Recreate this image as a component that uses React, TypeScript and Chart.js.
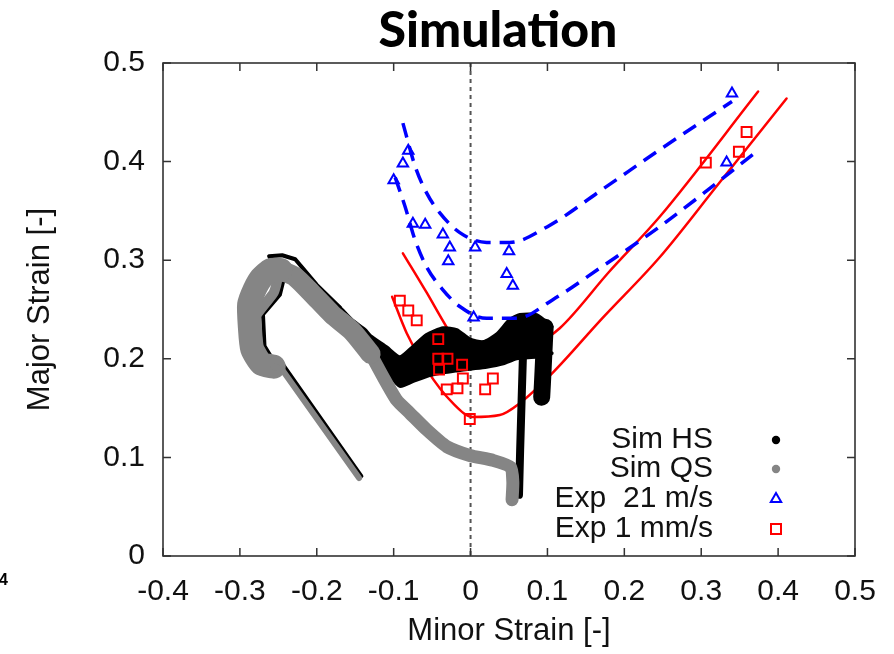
import React, { useEffect, useRef } from 'react';
import { Chart, registerables } from 'chart.js';

Chart.register(...registerables);

// ---- axes ----
const X_TICKS = [-0.4, -0.3, -0.2, -0.1, 0, 0.1, 0.2, 0.3, 0.4, 0.5];
const X_TICK_LABELS = ['-0.4', '-0.3', '-0.2', '-0.1', '0', '0.1', '0.2', '0.3', '0.4', '0.5'];
const Y_TICKS = [0, 0.1, 0.2, 0.3, 0.4, 0.5];
const Y_TICK_LABELS = ['0', '0.1', '0.2', '0.3', '0.4', '0.5'];

const LEGEND_LABELS = ['Sim HS', 'Sim QS', 'Exp  21 m/s', 'Exp 1 mm/s'];

// ---- Exp 21 m/s (triangles) ----
const EXP21_X = [-0.081, -0.088, -0.1, -0.075, -0.059, -0.036, -0.027, -0.029, 0.006, 0.05, 0.047, 0.055, 0.004, 0.34, 0.333];
const EXP21_Y = [0.411, 0.398, 0.381, 0.337, 0.336, 0.326, 0.313, 0.299, 0.313, 0.309, 0.286, 0.274, 0.242, 0.469, 0.399];

// ---- Exp 1 mm/s (squares) ----
const EXP1_X = [-0.092, -0.081, -0.07, -0.042, -0.042, -0.03, -0.041, -0.011, -0.01, -0.017, -0.031, 0.029, 0.019, -0.001, 0.306, 0.349, 0.359];
const EXP1_Y = [0.259, 0.249, 0.239, 0.22, 0.2, 0.2, 0.189, 0.194, 0.18, 0.17, 0.169, 0.18, 0.169, 0.139, 0.399, 0.41, 0.43];

// ---- blue dashed limit curves ----
const BLUE_UP_X = [-0.088, -0.072, -0.057, -0.04, -0.014, 0.021, 0.051, 0.1, 0.17, 0.246, 0.34];
const BLUE_UP_Y = [0.439, 0.395, 0.368, 0.348, 0.328, 0.318, 0.318, 0.334, 0.371, 0.412, 0.461];
const BLUE_LO_X = [-0.098, -0.085, -0.072, -0.057, -0.036, -0.014, 0.021, 0.06, 0.107, 0.17, 0.246, 0.372];
const BLUE_LO_Y = [0.384, 0.354, 0.32, 0.293, 0.27, 0.253, 0.241, 0.241, 0.26, 0.293, 0.334, 0.41];

// ---- red solid limit curves ----
const RED_UP_X = [-0.088, -0.057, -0.031, -0.014, 0.021, 0.051, 0.08, 0.116, 0.18, 0.246, 0.374];
const RED_UP_Y = [0.307, 0.267, 0.232, 0.212, 0.199, 0.202, 0.212, 0.231, 0.288, 0.344, 0.471];
const RED_LO_X = [-0.102, -0.083, -0.057, -0.023, 0.003, 0.038, 0.064, 0.107, 0.17, 0.246, 0.32, 0.411];
const RED_LO_Y = [0.263, 0.226, 0.189, 0.155, 0.141, 0.143, 0.155, 0.186, 0.24, 0.303, 0.375, 0.464];

// ---- Sim QS (grey band) ----
const QS_THIN_X = [-0.145, -0.245, -0.256];
const QS_THIN_Y = [0.079, 0.189, 0.192];
const QS_LEFT_X = [-0.256, -0.272, -0.284, -0.287, -0.288, -0.281, -0.272, -0.26, -0.247];
const QS_LEFT_Y = [0.192, 0.195, 0.21, 0.232, 0.255, 0.27, 0.282, 0.29, 0.29];
const QS_NOTCH_X = [-0.279, -0.266, -0.256, -0.251, -0.255];
const QS_NOTCH_Y = [0.244, 0.257, 0.267, 0.282, 0.29];
const QS_UP_X = [-0.247, -0.228, -0.206, -0.18, -0.154, -0.13];
const QS_UP_Y = [0.29, 0.283, 0.266, 0.245, 0.228, 0.205];
const QS_LO_X = [-0.13, -0.114, -0.096, -0.079, -0.057, -0.031, -0.001, 0.029, 0.052, 0.055, 0.054];
const QS_LO_Y = [0.205, 0.182, 0.158, 0.145, 0.128, 0.111, 0.102, 0.097, 0.09, 0.075, 0.057];

// ---- Sim HS (black band) ----
const HS_THIN_X = [-0.142, -0.243, -0.257, -0.268, -0.27, -0.258, -0.248, -0.243, -0.262, -0.245, -0.228, -0.2, -0.17];
const HS_THIN_Y = [0.081, 0.193, 0.199, 0.213, 0.245, 0.256, 0.265, 0.281, 0.304, 0.305, 0.301, 0.275, 0.252];
const HS_TOP_X = [-0.17, -0.1546, -0.1373, -0.1308, -0.1091, -0.0918, -0.0745, -0.0571, -0.0355, -0.0181, -0.0008, 0.0165, 0.0339, 0.0512, 0.0642, 0.0859, 0.1055];
const HS_TOP_Y = [0.252, 0.2393, 0.2292, 0.2234, 0.2115, 0.2015, 0.2123, 0.2241, 0.2309, 0.2292, 0.2195, 0.217, 0.2245, 0.2395, 0.2444, 0.2444, 0.2326];
const HS_BOT_X = [-0.17, -0.15, -0.1308, -0.1091, -0.0918, -0.0745, -0.0571, -0.0355, -0.0181, -0.0008, 0.0209, 0.0425, 0.0599, 0.0859, 0.1055];
const HS_BOT_Y = [0.248, 0.23, 0.205, 0.187, 0.1725, 0.1775, 0.1826, 0.1862, 0.1882, 0.19, 0.192, 0.1954, 0.2005, 0.2022, 0.2056];
const HS_BLOB_X = [0.097, 0.095, 0.0935, 0.0925];
const HS_BLOB_Y = [0.232, 0.2, 0.175, 0.161];
const HS_VERT_X = [0.0686, 0.0664, 0.0645, 0.063];
const HS_VERT_Y = [0.215, 0.158, 0.1075, 0.062];

const pts = (xs: number[], ys: number[]) => xs.map((x, i) => ({ x, y: ys[i] }));

const FONT = '"Liberation Sans", Arial, sans-serif';
const BLUE = '#0000ff';
const RED = '#ff0000';
const GREY = '#858585';
const TEXT = '#111111';

const decorPlugin = {
  id: 'decor',
  beforeDatasetsDraw(chart: any) {
    const { ctx, chartArea, scales } = chart;
    const x0 = scales.x.getPixelForValue(0);
    ctx.save();
    ctx.strokeStyle = '#555';
    ctx.lineWidth = 2;
    ctx.setLineDash([4, 4]);
    ctx.beginPath();
    ctx.moveTo(x0, chartArea.top);
    ctx.lineTo(x0, chartArea.bottom);
    ctx.stroke();
    ctx.restore();
  },
  afterDatasetsDraw(chart: any) {
    const { ctx, chartArea, scales } = chart;
    const { left, right, top, bottom } = chartArea;
    ctx.save();
    ctx.strokeStyle = '#333';
    ctx.lineWidth = 1.5;
    ctx.beginPath();
    X_TICKS.forEach((v) => {
      const px = scales.x.getPixelForValue(v);
      ctx.moveTo(px, bottom);
      ctx.lineTo(px, bottom - 8);
      ctx.moveTo(px, top);
      ctx.lineTo(px, top + 8);
    });
    Y_TICKS.forEach((v) => {
      const py = scales.y.getPixelForValue(v);
      ctx.moveTo(left, py);
      ctx.lineTo(left + 8, py);
      ctx.moveTo(right, py);
      ctx.lineTo(right - 8, py);
    });
    ctx.stroke();
    ctx.lineWidth = 1.6;
    ctx.strokeRect(left, top, right - left, bottom - top);

    // legend (text right-aligned, symbol to the right)
    const textX = 713;
    const symX = 776;
    const rowY = [440, 469, 499, 529];
    ctx.font = `30px ${FONT}`;
    ctx.fillStyle = TEXT;
    ctx.textAlign = 'right';
    ctx.textBaseline = 'middle';
    LEGEND_LABELS.forEach((t, i) => ctx.fillText(t, textX, rowY[i]));
    const dot = (cx: number, cy: number, col: string) => {
      ctx.fillStyle = col;
      ctx.beginPath();
      ctx.arc(cx, cy, 4.2, 0, Math.PI * 2);
      ctx.fill();
    };
    dot(symX, rowY[0], '#000');
    dot(symX, rowY[1], GREY);
    ctx.strokeStyle = BLUE;
    ctx.lineWidth = 2;
    const r = 6;
    ctx.beginPath();
    ctx.moveTo(symX, rowY[2] - r);
    ctx.lineTo(symX + r * Math.sin((2 * Math.PI) / 3), rowY[2] + r / 2);
    ctx.lineTo(symX - r * Math.sin((2 * Math.PI) / 3), rowY[2] + r / 2);
    ctx.closePath();
    ctx.stroke();
    ctx.strokeStyle = RED;
    ctx.strokeRect(symX - 5, rowY[3] - 5, 10, 10);

    // title
    ctx.fillStyle = '#000';
    ctx.textAlign = 'center';
    ctx.textBaseline = 'middle';
    ctx.font = '900 50px Lato, "Open Sans", sans-serif';
    ctx.fillText('Simulation', 498, 31);

    // clipped stray label at far left
    ctx.font = `bold 16px ${FONT}`;
    ctx.textAlign = 'right';
    ctx.fillText('4', 8, 581);
    ctx.restore();
  },
};

export default function App() {
  const ref = useRef<HTMLCanvasElement | null>(null);

  useEffect(() => {
    if (!ref.current) return;
    const lineDs = (data: any[], color: string, width: number, order: number, extra: any = {}) => ({
      data,
      showLine: true,
      borderColor: color,
      backgroundColor: color,
      borderWidth: width,
      pointRadius: 0,
      pointHoverRadius: 0,
      borderCapStyle: 'round',
      borderJoinStyle: 'round',
      tension: 0.2,
      fill: false,
      order,
      ...extra,
    });

    const chart = new Chart(ref.current, {
      type: 'scatter',
      data: {
        datasets: [
          {
            data: pts(EXP1_X, EXP1_Y),
            pointStyle: 'rect',
            pointRadius: 7,
            pointBorderWidth: 2,
            borderColor: RED,
            backgroundColor: 'rgba(0,0,0,0)',
            order: 0,
          } as any,
          {
            data: pts(EXP21_X, EXP21_Y),
            pointStyle: 'triangle',
            pointRadius: 6,
            pointBorderWidth: 2,
            borderColor: BLUE,
            backgroundColor: 'rgba(0,0,0,0)',
            order: 1,
          } as any,
          lineDs(pts(BLUE_UP_X, BLUE_UP_Y), BLUE, 3.5, 2, { borderDash: [15, 9], borderCapStyle: 'butt', cubicInterpolationMode: 'monotone' }),
          lineDs(pts(BLUE_LO_X, BLUE_LO_Y), BLUE, 3.5, 2, { borderDash: [15, 9], borderCapStyle: 'butt', cubicInterpolationMode: 'monotone' }),
          lineDs(pts(QS_THIN_X, QS_THIN_Y), GREY, 6, 3, { tension: 0 }),
          lineDs(pts(QS_LEFT_X, QS_LEFT_Y), GREY, 24, 3),
          lineDs(pts(QS_NOTCH_X, QS_NOTCH_Y), GREY, 10, 3),
          lineDs(pts(QS_UP_X, QS_UP_Y), GREY, 20, 3),
          lineDs(pts(QS_LO_X, QS_LO_Y), GREY, 13, 3),
          lineDs(pts(HS_THIN_X, HS_THIN_Y), '#000', 4, 4, { tension: 0 }),
          lineDs(pts(HS_TOP_X, HS_TOP_Y), '#000', 4, 4, { fill: '+1', backgroundColor: '#000' }),
          lineDs(pts(HS_BOT_X, HS_BOT_Y), '#000', 4, 4),
          lineDs(pts(HS_BLOB_X, HS_BLOB_Y), '#000', 17, 4),
          lineDs(pts(HS_VERT_X, HS_VERT_Y), '#000', 8, 4, { tension: 0 }),
          lineDs(pts(RED_UP_X, RED_UP_Y), RED, 2.5, 5, { cubicInterpolationMode: 'monotone' }),
          lineDs(pts(RED_LO_X, RED_LO_Y), RED, 2.5, 5, { cubicInterpolationMode: 'monotone' }),
        ],
      },
      options: {
        animation: false,
        responsive: false,
        events: [],
        layout: { padding: { left: 0, top: 63, right: 39, bottom: 0 } },
        plugins: {
          legend: { display: false },
          title: { display: false },
          tooltip: { enabled: false },
        },
        scales: {
          x: {
            type: 'linear',
            min: -0.4,
            max: 0.5,
            afterBuildTicks: (s: any) => {
              s.ticks = X_TICKS.map((v) => ({ value: v }));
            },
            afterFit: (s: any) => {
              s.height = 98;
            },
            grid: { display: false, drawTicks: false },
            border: { display: false },
            ticks: {
              callback: (_v: any, i: number) => X_TICK_LABELS[i],
              font: { family: FONT, size: 30 },
              color: TEXT,
              padding: 18,
              maxRotation: 0,
              autoSkip: false,
            },
            title: {
              display: true,
              text: 'Minor Strain [-]',
              font: { family: FONT, size: 31 },
              color: TEXT,
              padding: { top: 0, bottom: 4 },
            },
          },
          y: {
            type: 'linear',
            min: 0,
            max: 0.5,
            afterBuildTicks: (s: any) => {
              s.ticks = Y_TICKS.map((v) => ({ value: v }));
            },
            afterFit: (s: any) => {
              s.width = 163;
            },
            grid: { display: false, drawTicks: false },
            border: { display: false },
            ticks: {
              callback: (_v: any, i: number) => Y_TICK_LABELS[i],
              font: { family: FONT, size: 30 },
              color: TEXT,
              padding: 18,
              autoSkip: false,
            },
            title: {
              display: true,
              text: 'Major Strain [-]',
              font: { family: FONT, size: 31 },
              color: TEXT,
              padding: { top: 22, bottom: 0 },
            },
          },
        },
      } as any,
      plugins: [decorPlugin],
    });
    return () => chart.destroy();
  }, []);

  return (
    <div style={{ position: 'fixed', left: 0, top: 0, width: 894, height: 654, background: '#fff' }}>
      <canvas ref={ref} width={894} height={654} style={{ display: 'block', width: 894, height: 654 }} />
    </div>
  );
}
